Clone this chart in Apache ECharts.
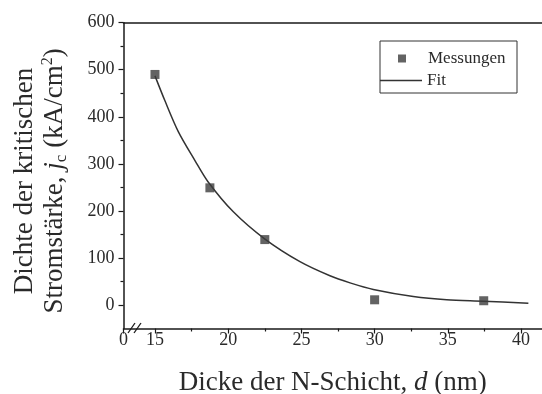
<!DOCTYPE html>
<html>
<head>
<meta charset="utf-8">
<script src="https://cdn.jsdelivr.net/npm/echarts@6/dist/echarts.min.js"></script>
<style>
html,body{margin:0;padding:0;background:#fff;}
#chart{width:542px;height:394px;}
</style>
</head>
<body>
<div id="chart"></div>
<script>
// Measured data (Messungen)
const measX = [15, 18.75, 22.5, 30, 37.45];
const measY = [490, 249, 139, 11, 9];
// Fit curve
const fitX = [15, 15.68, 16.6, 17.73, 18.62, 20.35, 22.51, 24.9, 26.95, 28.32, 29.91, 32.64, 34.92, 37.42, 40.5];
const fitY = [487, 434, 368, 307, 262, 198, 140, 92, 62, 47, 33, 18, 11, 8, 3.6];
// Axis ticks
const xMin = 12.85, xMax = 41.43;
const xLabels = [xMin, 15, 20, 25, 30, 35, 40];
const xMinor = [17.5, 22.5, 27.5, 32.5, 37.5];
const yLabels = [0, 100, 200, 300, 400, 500, 600];
const yMinor = [50, 150, 250, 350, 450, 550];

const serif = '"Liberation Serif", "DejaVu Serif", serif';
const axisColor = '#1a1a1a';
const textColor = '#2a2a2a';

const chart = echarts.init(document.getElementById('chart'));
chart.setOption({
  animation: false,
  backgroundColor: '#fff',
  grid: { left: 123.5, right: 0, top: 22.7, bottom: 65.5, containLabel: false, outerBoundsMode: 'none' },
  xAxis: [
    {
      type: 'value', min: xMin, max: xMax, position: 'bottom',
      axisLine: { show: true, onZero: false, lineStyle: { color: axisColor, width: 1.5 } },
      axisTick: { show: true, length: 5, customValues: xLabels, lineStyle: { color: axisColor, width: 1.2 } },
      axisLabel: { customValues: xLabels, formatter: v => (v < 14 ? '0' : String(Math.round(v))),
        fontFamily: serif, fontSize: 18, color: textColor, margin: 3 },
      splitLine: { show: false },
      name: '{a|Dicke der N-Schicht, }{i|d}{a| (nm)}',
      nameLocation: 'middle', nameGap: 41,
      nameTextStyle: { rich: {
        a: { fontFamily: serif, fontSize: 27, color: textColor },
        i: { fontFamily: serif, fontSize: 27, fontStyle: 'italic', color: textColor }
      } }
    },
    {
      type: 'value', min: xMin, max: xMax, position: 'bottom',
      axisLine: { show: false, onZero: false },
      axisTick: { show: true, length: 3, customValues: xMinor, lineStyle: { color: axisColor, width: 1.2 } },
      axisLabel: { show: false }, splitLine: { show: false }
    },
    {
      type: 'value', min: xMin, max: xMax, position: 'top',
      axisLine: { show: true, onZero: false, lineStyle: { color: axisColor, width: 1.5 } },
      axisTick: { show: false }, axisLabel: { show: false }, splitLine: { show: false }
    }
  ],
  yAxis: [
    {
      type: 'value', min: -50, max: 600, position: 'left',
      axisLine: { show: true, onZero: false, lineStyle: { color: axisColor, width: 1.5 } },
      axisTick: { show: true, length: 5, customValues: yLabels, lineStyle: { color: axisColor, width: 1.2 } },
      axisLabel: { customValues: yLabels, fontFamily: serif, fontSize: 18, color: textColor, margin: 9 },
      splitLine: { show: false }
    },
    {
      type: 'value', min: -50, max: 600, position: 'left',
      axisLine: { show: false, onZero: false },
      axisTick: { show: true, length: 3, customValues: yMinor, lineStyle: { color: axisColor, width: 1.2 } },
      axisLabel: { show: false }, splitLine: { show: false }
    }
  ],
  legend: [
    {
      data: ['Messungen'], left: 398, top: 50, itemWidth: 8, itemHeight: 8, padding: 0,
      textStyle: { fontFamily: serif, fontSize: 17, color: textColor, padding: [0, 0, 0, 17] }
    },
    {
      data: [{ name: 'Fit', icon: 'rect' }], left: 380, top: 72, itemWidth: 42, itemHeight: 1.5, padding: 0,
      itemStyle: { color: '#333' },
      textStyle: { fontFamily: serif, fontSize: 17, color: textColor, padding: [0, 0, 0, 0] }
    }
  ],
  graphic: [
    { type: 'rect', shape: { x: 380, y: 41, width: 137, height: 52 }, style: { fill: null, stroke: '#333', lineWidth: 1 }, z: 10 },
    { type: 'line', shape: { x1: 128, y1: 333, x2: 135, y2: 323 }, style: { stroke: axisColor, lineWidth: 1.3 }, z: 10 },
    { type: 'line', shape: { x1: 134, y1: 333, x2: 141, y2: 323 }, style: { stroke: axisColor, lineWidth: 1.3 }, z: 10 },
    {
      type: 'text', x: 40, y: 181, rotation: Math.PI / 2,
      style: {
        text: '{a|Dichte der kritischen}\n{a|Stromstärke, }{i|j}{sub|c}{a| (kA/cm}{sup|2}{a|)}',
        align: 'center', verticalAlign: 'middle',
        rich: {
          a: { fontFamily: serif, fontSize: 27, fill: textColor, lineHeight: 30 },
          i: { fontFamily: serif, fontSize: 27, fontStyle: 'italic', fill: textColor, lineHeight: 30 },
          sub: { fontFamily: serif, fontSize: 17, fill: textColor, lineHeight: 17, verticalAlign: 'bottom' },
          sup: { fontFamily: serif, fontSize: 16, fill: textColor, lineHeight: 16, verticalAlign: 'top' }
        }
      }
    }
  ],
  series: [
    {
      name: 'Fit', type: 'line', xAxisIndex: 0, yAxisIndex: 0,
      data: fitX.map((x, i) => [x, fitY[i]]),
      smooth: 0.3, showSymbol: false, symbol: 'none',
      lineStyle: { color: '#333', width: 1.5 }, itemStyle: { color: '#333' }
    },
    {
      name: 'Messungen', type: 'scatter', xAxisIndex: 0, yAxisIndex: 0,
      data: measX.map((x, i) => [x, measY[i]]),
      symbol: 'rect', symbolSize: 9,
      itemStyle: { color: '#3c3c3c' }, z: 3
    }
  ]
});
</script>
</body>
</html>
